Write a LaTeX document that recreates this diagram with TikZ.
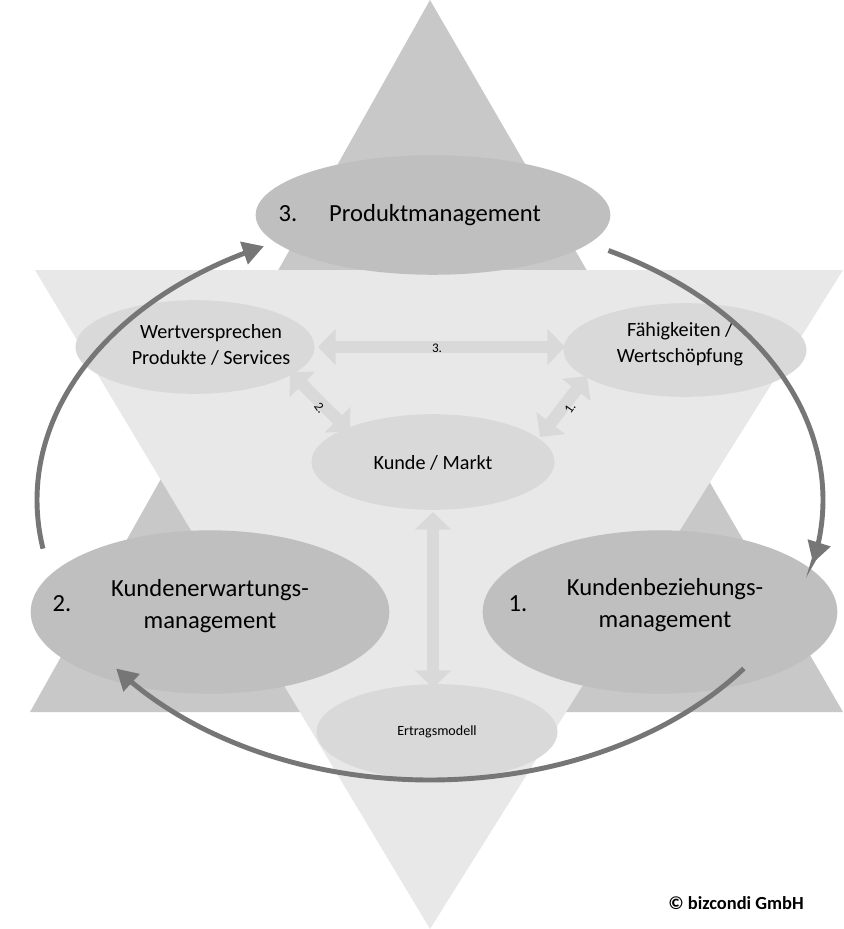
\documentclass[tikz,border=0pt]{standalone}
\usepackage{fontspec}
\setmainfont{Carlito}
\usetikzlibrary{arrows.meta,shapes.geometric}
\definecolor{upT}{HTML}{C8C8C8}
\definecolor{dnT}{HTML}{E8E8E8}
\definecolor{smallE}{HTML}{D9D9D9}
\definecolor{bigE}{HTML}{BFBFBF}
\definecolor{ring}{HTML}{767676}
\begin{document}
\begin{tikzpicture}[x=0.02cm,y=-0.02cm,
  bigell/.style={ellipse,fill=bigE,inner sep=0pt},
  smallell/.style={ellipse,fill=smallE,inner sep=0pt},
  ringarrow/.style={draw=ring,line width=2.8pt,-{Triangle[length=12pt,width=13pt]}},
  blockarrow/.style={draw=smallE,line width=7pt,{Triangle[length=10pt,width=20pt]}-{Triangle[length=10pt,width=20pt]}},
  lbl/.style={font=\fontsize{7.5}{8}\selectfont,inner sep=0pt}]
\useasboundingbox[fill=white] (0,0) rectangle (844,929);
\fill[upT] (430,0) -- (843,712) -- (30,712) -- cycle;
\fill[dnT] (35,270) -- (843,270) -- (430,929) -- cycle;
\node[bigell,minimum width=356*0.567pt,minimum height=120*0.567pt] at (433,215) (pm) {};
\node[font=\fontsize{14}{16}\selectfont] at (288,214) (pmn) {3.};
\node[font=\fontsize{14}{16}\selectfont] at (435,215) (pmt) {Produktmanagement};
\node[smallell,minimum width=240*0.567pt,minimum height=94*0.567pt] at (195,347) (wv) {};
\node[font=\fontsize{11.5}{15}\selectfont,align=center] at (211,345) (wvt) {Wertversprechen\\Produkte / Services};
\node[smallell,minimum width=244*0.567pt,minimum height=94*0.567pt] at (685,350) (fw) {};
\node[font=\fontsize{11.5}{15}\selectfont,align=center] at (680,344) (fwt) {Fähigkeiten /\\Wertschöpfung};
\node[smallell,minimum width=244*0.567pt,minimum height=96*0.567pt] at (433,462) (km) {};
\node[font=\fontsize{11.5}{13}\selectfont] at (433,463) (kmt) {Kunde / Markt};
\node[smallell,minimum width=242*0.567pt,minimum height=96*0.567pt] at (437,732) (em) {};
\node[font=\fontsize{8}{9}\selectfont] at (437,732) (emt) {Ertragsmodell};
\draw[blockarrow] (318,347) -- (565,347);
\draw[blockarrow] (290,372) -- (350,432);
\draw[blockarrow] (587,376) -- (540,437);
\draw[blockarrow] (433,512) -- (433,688);
\node[lbl] at (437,348) (l3) {3.};
\node[lbl,rotate=-55] at (320,408) (l2) {2.};
\node[lbl,rotate=55] at (570,408) (l1) {1.};
\node[bigell,minimum width=360*0.567pt,minimum height=164*0.567pt] at (210,612) (ke) {};
\node[font=\fontsize{14}{16}\selectfont] at (62,604) (ken) {2.};
\node[font=\fontsize{14}{18}\selectfont,align=center] at (210,606) (ket) {Kundenerwartungs-\\management};
\node[bigell,minimum width=356*0.567pt,minimum height=164*0.567pt] at (660,612) (kb) {};
\node[font=\fontsize{14}{16}\selectfont] at (518,604) (kbn) {1.};
\node[font=\fontsize{14}{18}\selectfont,align=center] at (665,605) (kbt) {Kundenbeziehungs-\\management};
\draw[ringarrow] plot[smooth,samples=60,domain=63:-13] ({430+393*cos(\x)},{500-280*sin(\x)});
\draw[ringarrow] plot[smooth,samples=60,domain=190:115] ({430+393*cos(\x)},{500-280*sin(\x)});
\draw[ringarrow] plot[smooth,samples=60,domain=-37:-143] ({430+393*cos(\x)},{500-280*sin(\x)});
\node[font=\bfseries\fontsize{10.5}{12}\selectfont] at (736,903) (cp) {© bizcondi GmbH};
\end{tikzpicture}
\end{document}
